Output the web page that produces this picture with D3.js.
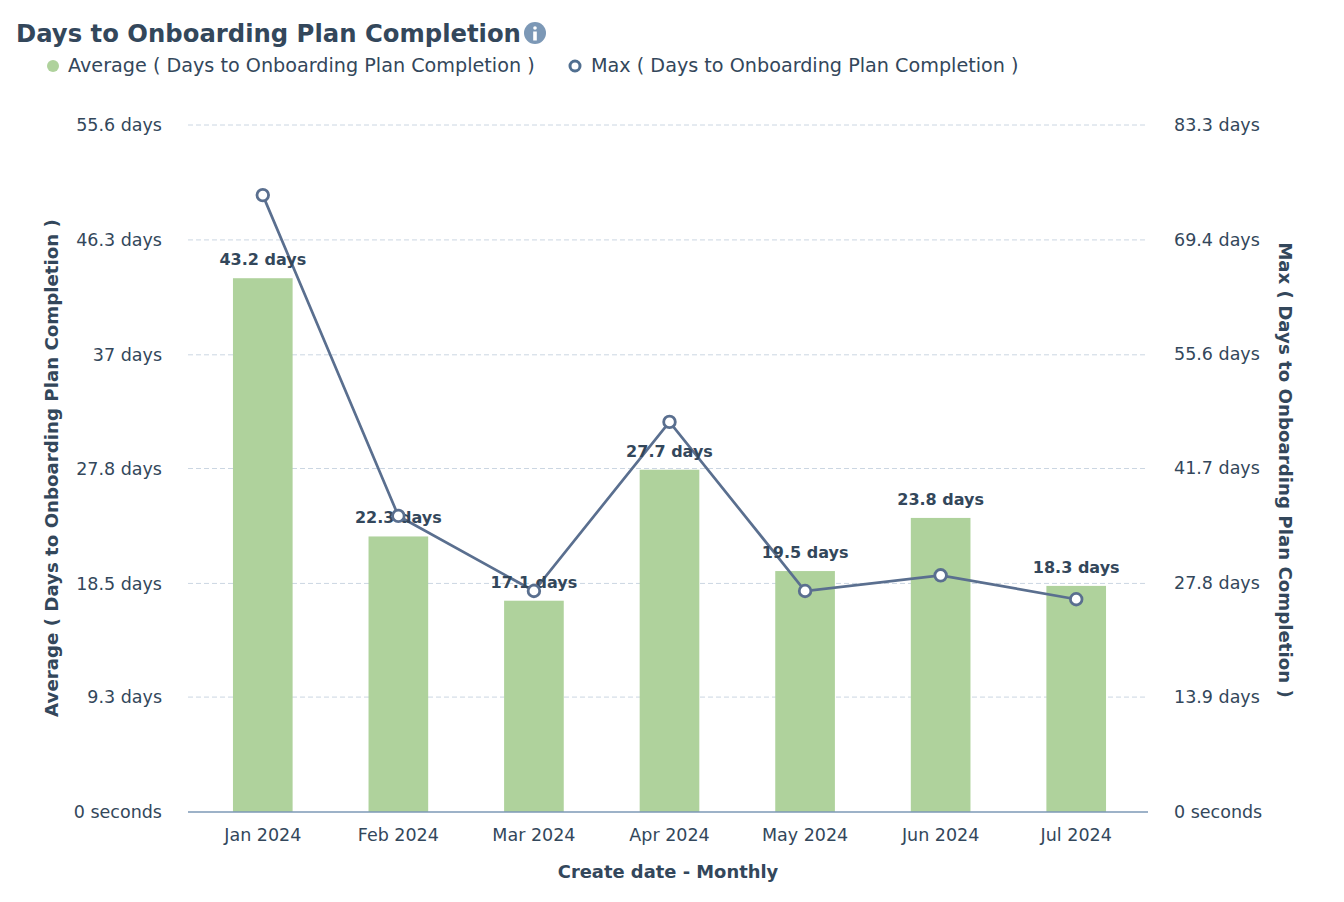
<!DOCTYPE html>
<html>
<head>
<meta charset="utf-8">
<script src="https://cdn.jsdelivr.net/npm/d3@7"></script>
<style>
  body { margin: 0; background: #fff; }
  svg text { font-family: "DejaVu Sans", sans-serif; fill: #33475b; }
</style>
</head>
<body>
<svg id="chart" width="1344" height="902"></svg>
<script>
const months = ['Jan 2024', 'Feb 2024', 'Mar 2024', 'Apr 2024', 'May 2024', 'Jun 2024', 'Jul 2024'];
const avgDays = [43.2, 22.3, 17.1, 27.7, 19.5, 23.8, 18.3];
const maxDays = [74.8, 35.9, 26.8, 47.3, 26.8, 28.7, 25.8];
const leftTicks = [0, 9.3, 18.5, 27.8, 37, 46.3, 55.6];
const rightTicks = [0, 13.9, 27.8, 41.7, 55.6, 69.4, 83.3];

const svg = d3.select('#chart');
const plotTop = 125, plotBottom = 812, plotLeft = 188, plotRight = 1148;

const x = d3.scaleBand().domain(months).range([195, 1144]).paddingInner(0.56).paddingOuter(0.28);
const yL = d3.scaleLinear().domain([0, 55.6]).range([plotBottom, plotTop]);
const yR = d3.scaleLinear().domain([0, 83.3]).range([plotBottom, plotTop]);

const fmt = v => v === 0 ? '0 seconds' : v + ' days';

// title
svg.append('text').attr('x', 16).attr('y', 42)
  .style('font-size', '24.3px').style('font-weight', 700)
  .text('Days to Onboarding Plan Completion');
const info = svg.append('g').attr('transform', 'translate(535,33)');
info.append('circle').attr('r', 11).attr('fill', '#7c98b6');
info.append('circle').attr('cy', -5).attr('r', 1.8).attr('fill', '#fff');
info.append('rect').attr('x', -1.8).attr('y', -1.5).attr('width', 3.6).attr('height', 9).attr('fill', '#fff');

// legend
svg.append('circle').attr('cx', 53).attr('cy', 66).attr('r', 6).attr('fill', '#afd29c');
svg.append('text').attr('x', 68).attr('y', 72).style('font-size', '19.2px')
  .text('Average ( Days to Onboarding Plan Completion )');
svg.append('circle').attr('cx', 575).attr('cy', 66).attr('r', 5).attr('fill', '#fff')
  .attr('stroke', '#516f90').attr('stroke-width', 3);
svg.append('text').attr('x', 591).attr('y', 72).style('font-size', '19.2px')
  .text('Max ( Days to Onboarding Plan Completion )');

// grid
svg.append('g').selectAll('line').data(leftTicks.slice(1)).join('line')
  .attr('x1', plotLeft).attr('x2', plotRight)
  .attr('y1', d => yL(d)).attr('y2', d => yL(d))
  .attr('stroke', '#cbd6e2').attr('stroke-dasharray', '5,3');

// left axis
const axL = svg.append('g').attr('transform', `translate(${plotLeft},0)`)
  .call(d3.axisLeft(yL).tickValues(leftTicks).tickFormat(fmt).tickSize(0).tickPadding(26));
axL.select('.domain').remove();
axL.selectAll('text').style('font-size', '17.5px').attr('fill', '#33475b');

// right axis
const axR = svg.append('g').attr('transform', `translate(${plotRight},0)`)
  .call(d3.axisRight(yR).tickValues(rightTicks).tickFormat(fmt).tickSize(0).tickPadding(26));
axR.select('.domain').remove();
axR.selectAll('text').style('font-size', '17.5px').attr('fill', '#33475b');

// bars
svg.append('g').selectAll('rect').data(avgDays).join('rect')
  .attr('x', (d, i) => x(months[i]))
  .attr('width', x.bandwidth())
  .attr('y', d => yL(d))
  .attr('height', d => plotBottom - yL(d))
  .attr('fill', '#afd29c');

// x axis
const axX = svg.append('g').attr('transform', `translate(0,${plotBottom})`)
  .call(d3.axisBottom(x).tickSize(0).tickPadding(17));
axX.select('.domain').remove();
axX.selectAll('text').style('font-size', '17.5px').attr('fill', '#33475b');
svg.append('line').attr('x1', plotLeft).attr('x2', plotRight).attr('y1', plotBottom).attr('y2', plotBottom)
  .attr('stroke', '#7c98b6').attr('stroke-width', 1.5);

// line
const cx = i => x(months[i]) + x.bandwidth() / 2;
svg.append('path').datum(maxDays)
  .attr('d', d3.line().x((d, i) => cx(i)).y(d => yR(d)))
  .attr('fill', 'none').attr('stroke', '#5a6f8f').attr('stroke-width', 2.7);

// bar labels
svg.append('g').selectAll('text').data(avgDays).join('text')
  .attr('x', (d, i) => cx(i)).attr('y', d => yL(d) - 13)
  .attr('text-anchor', 'middle')
  .style('font-size', '16px').style('font-weight', 700)
  .text(d => d + ' days');

svg.append('g').selectAll('circle').data(maxDays).join('circle')
  .attr('cx', (d, i) => cx(i)).attr('cy', d => yR(d)).attr('r', 5.8)
  .attr('fill', '#fff').attr('stroke', '#5a6f8f').attr('stroke-width', 2.8);

// axis titles
svg.append('text').attr('transform', 'translate(58,468) rotate(-90)')
  .attr('text-anchor', 'middle').style('font-size', '18.2px').style('font-weight', 700)
  .text('Average ( Days to Onboarding Plan Completion )');
svg.append('text').attr('transform', 'translate(1279,470) rotate(90)')
  .attr('text-anchor', 'middle').style('font-size', '18.2px').style('font-weight', 700)
  .text('Max ( Days to Onboarding Plan Completion )');
svg.append('text').attr('x', 668).attr('y', 878)
  .attr('text-anchor', 'middle').style('font-size', '17.9px').style('font-weight', 700)
  .text('Create date - Monthly');
</script>
</body>
</html>
